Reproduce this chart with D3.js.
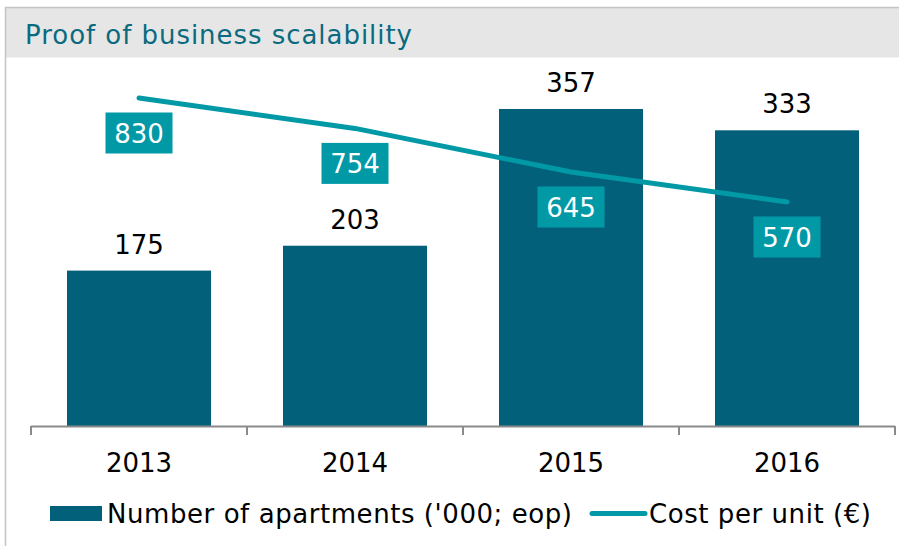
<!DOCTYPE html>
<html>
<head>
<meta charset="utf-8">
<script src="https://cdn.jsdelivr.net/npm/d3@7"></script>
<style>
  html, body { margin: 0; padding: 0; background: #fff; }
  svg { display: block; }
  text { font-family: "DejaVu Sans", Verdana, sans-serif; }
</style>
</head>
<body>
<svg id="chart" width="899" height="546"></svg>
<script>
const title = "Proof of business scalability";
const years = ["2013", "2014", "2015", "2016"];
const apartments = [175, 203, 357, 333];
const costPerUnit = [830, 754, 645, 570];
const legendLabels = ["Number of apartments ('000; eop)", "Cost per unit (\u20AC)"];

const W = 899, H = 546;
const barColor = "#03607a";
const lineColor = "#0299a7";
const titleColor = "#0a6a80";

const svg = d3.select("#chart");

// frame and title band
svg.append("rect").attr("x", 5.5).attr("y", 7.5).attr("width", W).attr("height", 50)
  .attr("fill", "#e6e6e6");
svg.append("line").attr("x1", 5).attr("x2", W).attr("y1", 7.5).attr("y2", 7.5)
  .attr("stroke", "#c4c4c4").attr("stroke-width", 1.5);
svg.append("line").attr("x1", 5.5).attr("x2", 5.5).attr("y1", 7).attr("y2", H)
  .attr("stroke", "#c4c4c4").attr("stroke-width", 1.5);
svg.append("text").attr("x", 25).attr("y", 43.5)
  .attr("font-size", 26).attr("fill", titleColor)
  .attr("textLength", 387).attr("lengthAdjust", "spacing").text(title);

const x = d3.scaleBand().domain(years).range([31, 895])
  .paddingInner(1/3).paddingOuter(1/6);
const y = d3.scaleLinear().domain([0, 400]).range([426, 70.8]);
const y2 = d3.scaleLinear().domain([0, 1000]).range([430, 30]);

// bars
svg.append("g").selectAll("rect").data(years).join("rect")
  .attr("x", d => x(d)).attr("width", x.bandwidth())
  .attr("y", (d, i) => y(apartments[i]))
  .attr("height", (d, i) => y(0) - y(apartments[i]))
  .attr("fill", barColor);

// bar value labels
svg.append("g").selectAll("text").data(years).join("text")
  .attr("x", d => x(d) + x.bandwidth() / 2)
  .attr("y", (d, i) => y(apartments[i]) - 17)
  .attr("text-anchor", "middle").attr("font-size", 26).attr("fill", "#000")
  .text((d, i) => apartments[i]);

// x axis
const xAxisScale = d3.scalePoint().domain(d3.range(years.length + 1)).range([31, 895]);
const axisG = svg.append("g");
axisG.append("line").attr("x1", 31).attr("x2", 895).attr("y1", 426.5).attr("y2", 426.5)
  .attr("stroke", "#8a8a8a").attr("stroke-width", 2);
axisG.selectAll("line.tick").data(xAxisScale.domain()).join("line")
  .attr("class", "tick")
  .attr("x1", d => xAxisScale(d)).attr("x2", d => xAxisScale(d))
  .attr("y1", 426).attr("y2", 435)
  .attr("stroke", "#8a8a8a").attr("stroke-width", 2);
axisG.selectAll("text").data(years).join("text")
  .attr("x", d => x(d) + x.bandwidth() / 2).attr("y", 472)
  .attr("text-anchor", "middle").attr("font-size", 26).attr("fill", "#000")
  .text(d => d);

// line
const line = d3.line()
  .x((d, i) => x(years[i]) + x.bandwidth() / 2)
  .y(d => y2(d));
svg.append("path").datum(costPerUnit)
  .attr("d", line).attr("fill", "none")
  .attr("stroke", lineColor).attr("stroke-width", 5)
  .attr("stroke-linecap", "round").attr("stroke-linejoin", "round");

// line labels
const lab = svg.append("g").selectAll("g").data(costPerUnit).join("g")
  .attr("transform", (d, i) => `translate(${x(years[i]) + x.bandwidth() / 2},${y2(d) + 35})`);
lab.append("rect").attr("x", -33.5).attr("y", -20.5).attr("width", 67).attr("height", 41)
  .attr("fill", lineColor);
lab.append("text").attr("y", 9.5).attr("text-anchor", "middle")
  .attr("font-size", 26).attr("fill", "#fff").text(d => d);

// legend
const leg = svg.append("g");
leg.append("rect").attr("x", 50).attr("y", 506).attr("width", 52).attr("height", 15)
  .attr("fill", barColor);
leg.append("text").attr("x", 107).attr("y", 523).attr("font-size", 26)
  .attr("fill", "#000").attr("textLength", 465).attr("lengthAdjust", "spacing")
  .text(legendLabels[0]);
leg.append("line").attr("x1", 592).attr("x2", 645).attr("y1", 513.5).attr("y2", 513.5)
  .attr("stroke", lineColor).attr("stroke-width", 5).attr("stroke-linecap", "round");
leg.append("text").attr("x", 649).attr("y", 523).attr("font-size", 26)
  .attr("fill", "#000").attr("textLength", 222).attr("lengthAdjust", "spacing")
  .text(legendLabels[1]);
</script>
</body>
</html>
